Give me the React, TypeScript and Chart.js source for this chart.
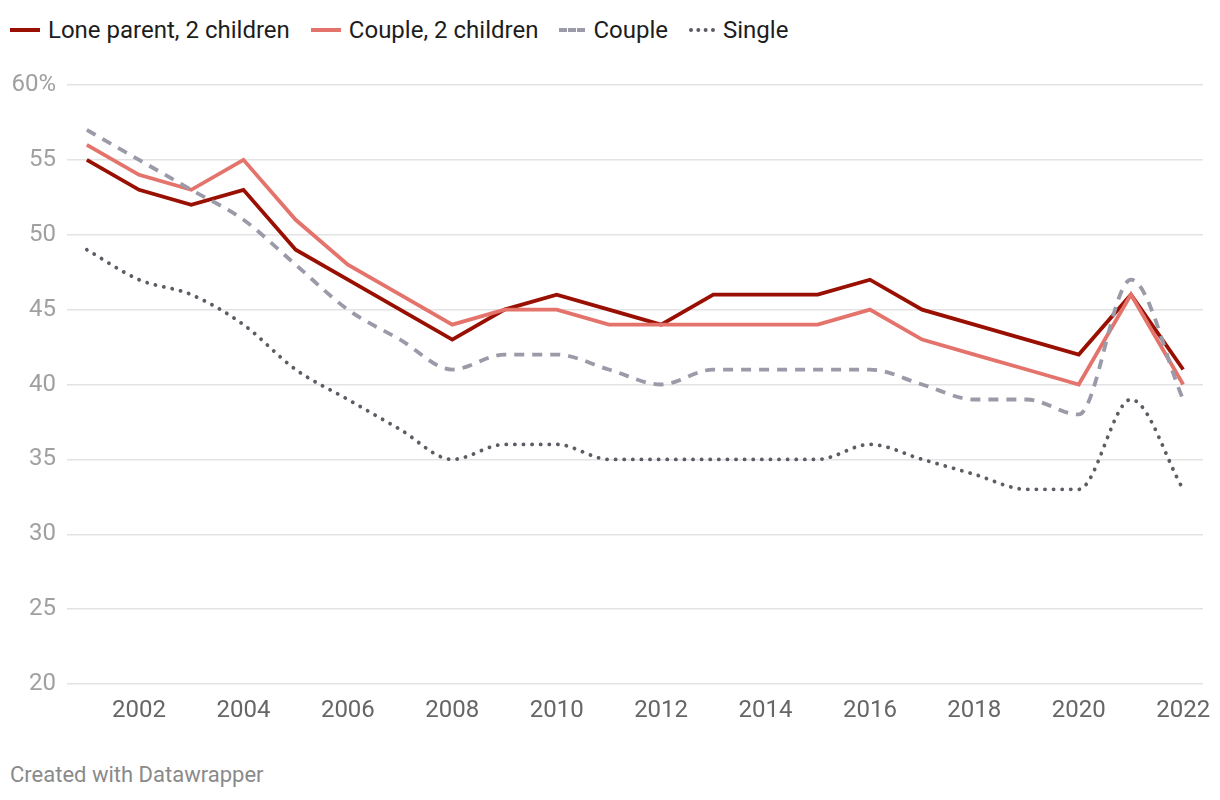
import React, { useEffect, useRef } from "react";
import { Chart, registerables } from "chart.js";

Chart.register(...registerables);

const years = [2001, 2002, 2003, 2004, 2005, 2006, 2007, 2008, 2009, 2010, 2011, 2012, 2013, 2014, 2015, 2016, 2017, 2018, 2019, 2020, 2021, 2022];
const loneParent = [55, 53, 52, 53, 49, 47, 45, 43, 45, 46, 45, 44, 46, 46, 46, 47, 45, 44, 43, 42, 46, 41];
const couple2 = [56, 54, 53, 55, 51, 48, 46, 44, 45, 45, 44, 44, 44, 44, 44, 45, 43, 42, 41, 40, 46, 40];
const couple = [57, 55, 53, 51, 48, 45, 43, 41, 42, 42, 41, 40, 41, 41, 41, 41, 40, 39, 39, 38, 47, 39];
const single = [49, 47, 46, 44, 41, 39, 37, 35, 36, 36, 35, 35, 35, 35, 35, 36, 35, 34, 33, 33, 39, 33];
const xTicks = [2002, 2004, 2006, 2008, 2010, 2012, 2014, 2016, 2018, 2020, 2022];
const yTicks = [20, 25, 30, 35, 40, 45, 50, 55, 60];

const seriesNames = ["Lone parent, 2 children", "Couple, 2 children", "Couple", "Single"];
const colors = ["#990f02", "#e3736b", "#9a9aa8", "#5c5c64"];

const FONT = "Roboto, 'Noto Sans', sans-serif";

export default function App() {
  const ref = useRef<HTMLCanvasElement | null>(null);

  useEffect(() => {
    if (!ref.current) return;
    const toPts = (arr: number[]) => arr.map((v, i) => ({ x: years[i], y: v }));
    const chart = new Chart(ref.current, {
      type: "line",
      data: {
        datasets: [
          {
            label: seriesNames[0],
            data: toPts(loneParent),
            borderColor: colors[0],
            borderWidth: 3.8,
            pointRadius: 0,
            tension: 0,
          },
          {
            label: seriesNames[1],
            data: toPts(couple2),
            borderColor: colors[1],
            borderWidth: 3.8,
            pointRadius: 0,
            tension: 0,
          },
          {
            label: seriesNames[2],
            data: toPts(couple),
            borderColor: colors[2],
            borderWidth: 3.8,
            borderDash: [10, 8],
            pointRadius: 0,
            cubicInterpolationMode: "monotone",
          },
          {
            label: seriesNames[3],
            data: toPts(single),
            borderColor: colors[3],
            borderWidth: 3.8,
            borderDash: [0.1, 8.5],
            borderCapStyle: "round",
            pointRadius: 0,
            cubicInterpolationMode: "monotone",
          },
        ].reverse() as any,
      },
      options: {
        animation: false,
        responsive: false,
        maintainAspectRatio: false,
        layout: { padding: { top: 17, right: 9, left: 0, bottom: 0 } },
        plugins: { legend: { display: false }, tooltip: { enabled: false } },
        scales: {
          x: {
            type: "linear",
            min: 2000.62,
            max: 2022.38,
            afterBuildTicks: (s: any) => {
              s.ticks = xTicks.map((v) => ({ value: v }));
            },
            afterFit: (s: any) => {
              s.height = 56;
              s.paddingLeft = 0;
              s.paddingRight = 0;
            },
            grid: { display: false, drawTicks: false },
            border: { display: false },
            ticks: {
              padding: 13,
              color: "#666666",
              font: { family: FONT, size: 24 },
              callback: (v: any) => String(v),
              maxRotation: 0,
              autoSkip: false,
            },
          },
          y: {
            min: 20,
            max: 60,
            afterBuildTicks: (s: any) => {
              s.ticks = yTicks.map((v) => ({ value: v }));
            },
            afterFit: (s: any) => {
              s.width = 59;
              s.paddingTop = 0;
              s.paddingBottom = 0;
            },
            grid: { color: "#e3e3e3", lineWidth: 1.5, drawTicks: false },
            border: { display: false },
            ticks: {
              padding: 11,
              color: "#a0a0a0",
              font: { family: FONT, size: 24 },
              callback: (v: any) => (v === 60 ? "60%" : String(v)),
            },
          },
        },
      },
    });
    return () => chart.destroy();
  }, []);

  const legendLine = (i: number) => {
    const style: React.CSSProperties = {
      display: "inline-block",
      width: i === 0 || i === 1 ? 30 : 26,
      height: 0,
      borderTopWidth: 4,
      borderTopColor: colors[i],
      borderTopStyle: i === 2 ? "dashed" : i === 3 ? "dotted" : "solid",
      marginRight: 8,
      verticalAlign: "middle",
    };
    return <span style={style} />;
  };

  return (
    <div style={{ position: "relative", width: 1204, height: 784, fontFamily: FONT }}>
      <div
        style={{
          position: "absolute",
          left: 2,
          top: 8,
          height: 28,
          display: "flex",
          alignItems: "center",
          fontSize: 24,
          color: "#1d1d1d",
          whiteSpace: "nowrap",
        }}
      >
        {seriesNames.map((n, i) => (
          <span key={n} style={{ display: "inline-flex", alignItems: "center", marginRight: 21 }}>
            {legendLine(i)}
            {n}
          </span>
        ))}
      </div>
      <canvas ref={ref} width={1204} height={672} style={{ position: "absolute", left: 0, top: 60, width: 1204, height: 672 }} />
      <div
        style={{
          position: "absolute",
          left: 2,
          top: 754,
          fontSize: 22,
          color: "#8a8a8a",
        }}
      >
        Created with Datawrapper
      </div>
    </div>
  );
}
